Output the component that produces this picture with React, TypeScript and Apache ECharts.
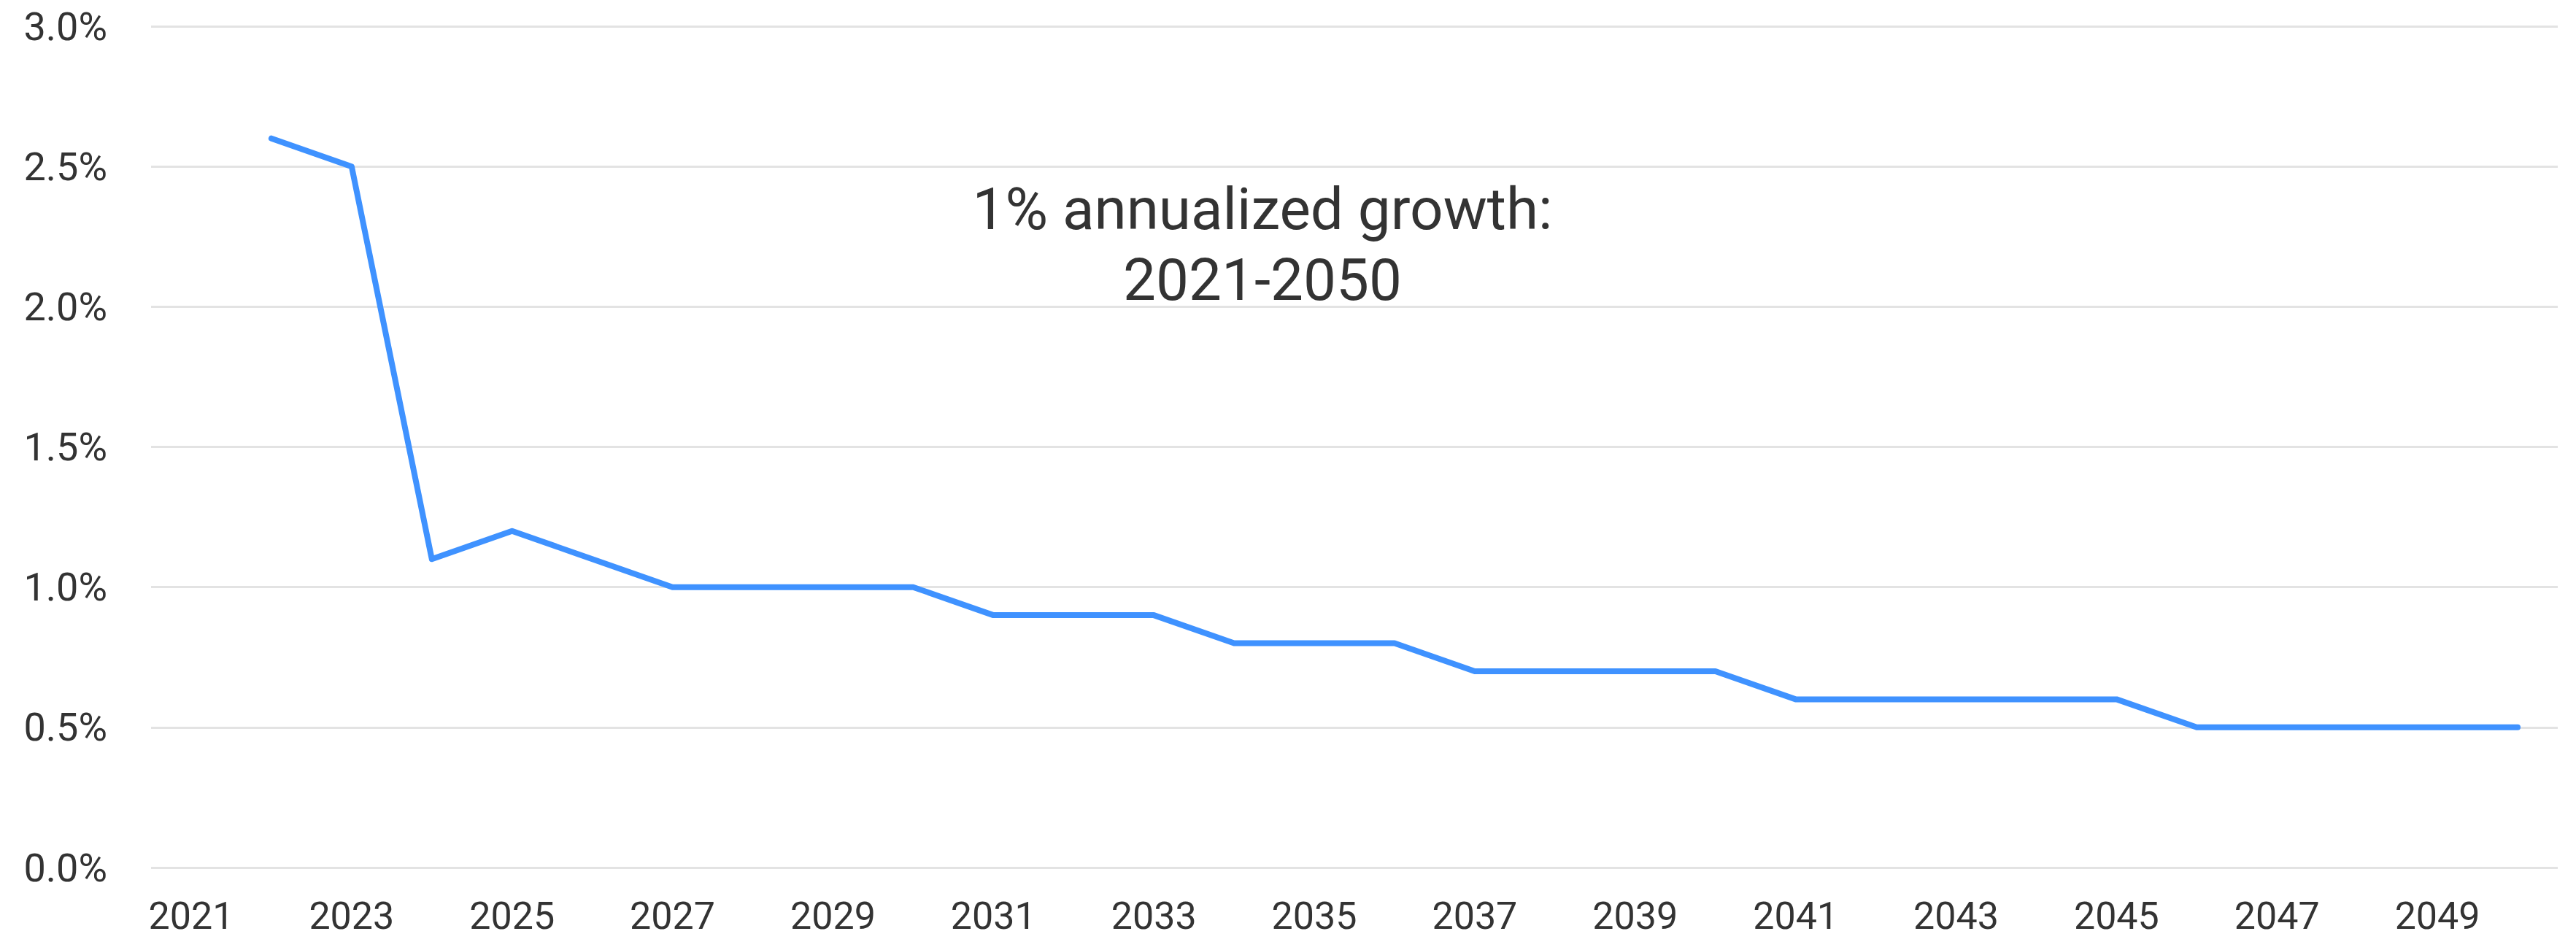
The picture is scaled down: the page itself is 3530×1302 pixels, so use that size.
import React, { useEffect, useRef } from "react";
import * as echarts from "echarts";

const years: string[] = [];
for (let y = 2021; y <= 2050; y++) years.push(String(y));

const growth: (number | null)[] = [
  null, 2.6, 2.5, 1.1, 1.2, 1.1, 1.0, 1.0, 1.0, 1.0,
  0.9, 0.9, 0.9, 0.8, 0.8, 0.8, 0.7, 0.7, 0.7, 0.7,
  0.6, 0.6, 0.6, 0.6, 0.6, 0.5, 0.5, 0.5, 0.5, 0.5,
];

const yTicks = [0, 0.5, 1.0, 1.5, 2.0, 2.5, 3.0];

const annotationLines = ["1% annualized growth:", "2021-2050"];

const FONT = "Roboto, 'Noto Sans', sans-serif";

export default function App() {
  const ref = useRef<HTMLDivElement>(null);
  useEffect(() => {
    if (!ref.current) return;
    const chart = echarts.init(ref.current, null, { renderer: "svg" });
    chart.setOption({
      animation: false,
      backgroundColor: "#ffffff",
      grid: { left: 207, right: 25, top: 36, bottom: 113, containLabel: false },
      xAxis: {
        type: "category",
        data: years,
        boundaryGap: true,
        axisLine: { show: false },
        axisTick: { show: false },
        axisLabel: {
          interval: 1,
          color: "#333333",
          fontSize: 52,
          fontFamily: FONT,
          margin: 40,
        },
        splitLine: { show: false },
      },
      yAxis: {
        type: "value",
        min: yTicks[0],
        max: yTicks[yTicks.length - 1],
        interval: 0.5,
        axisLine: { show: false },
        axisTick: { show: false },
        axisLabel: {
          color: "#333333",
          fontSize: 54,
          fontFamily: FONT,
          margin: 60,
          formatter: (v: number) => v.toFixed(1) + "%",
        },
        splitLine: { lineStyle: { color: "#e3e3e3", width: 3 } },
      },
      graphic: [
        {
          type: "text",
          x: 1730,
          y: 238,
          style: {
            text: annotationLines.join("\n"),
            textAlign: "center",
            textVerticalAlign: "top",
            fontSize: 80,
            lineHeight: 97,
            fontFamily: FONT,
            fill: "#333333",
          },
        },
      ],
      series: [
        {
          type: "line",
          data: growth,
          showSymbol: false,
          symbol: "none",
          connectNulls: false,
          lineStyle: { color: "#3f92ff", width: 8, cap: "round", join: "round" },
        },
      ],
    });
    return () => chart.dispose();
  }, []);
  return (
    <div
      ref={ref}
      style={{ position: "fixed", left: 0, top: 0, width: 3530, height: 1302 }}
    />
  );
}
